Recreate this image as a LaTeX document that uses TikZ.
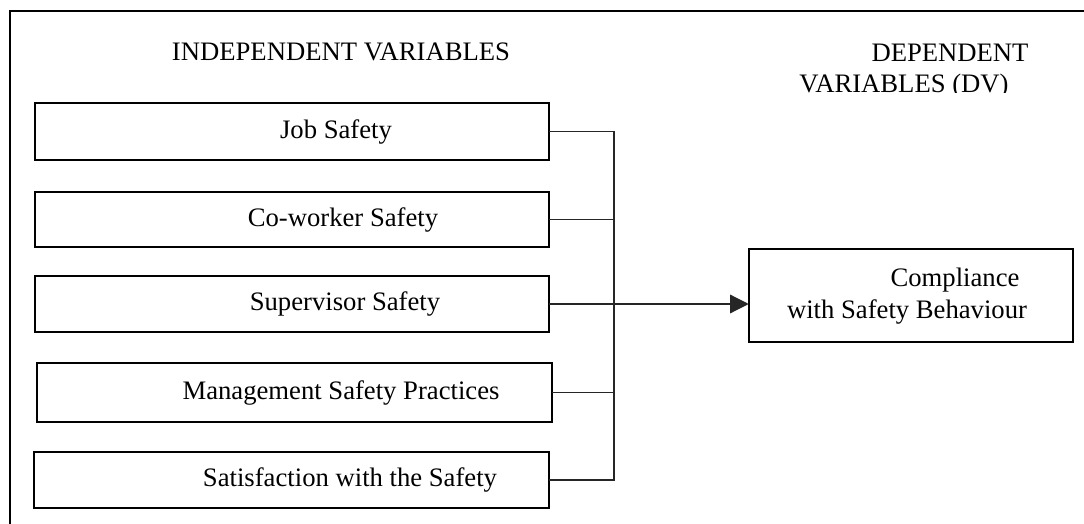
\documentclass[tikz,border=0pt]{standalone}
\usepackage{fontspec}
\setmainfont{Liberation Serif}
\usetikzlibrary{arrows.meta}
\begin{document}
\begin{tikzpicture}[x=0.75pt,y=-0.75pt,
  frame/.style={line width=2pt},
  varbox/.style={draw,line width=1.6pt,rectangle,inner sep=0pt},
  conn/.style={draw,line width=0.9pt,black!85},
  txt/.style={font=\fontsize{20}{24}\selectfont,inner sep=0pt,anchor=base}]
\useasboundingbox (0,0) rectangle (1084,524);
\clip (0,0) rectangle (1084,524);
\fill[white] (0,0) rectangle (1084,524);
% outer frame (runs off the page right and bottom)
\draw[frame] (10,11) rectangle (1100,540);
% headings
\node[txt] (hind) at (341,61) {INDEPENDENT VARIABLES};
\node[txt] (hdep) at (950,62) {DEPENDENT};
\begin{scope}
  \clip (700,0) rectangle (1084,93);
  \node[txt] (hdv) at (904,93) {VARIABLES (DV)};
\end{scope}
% boxes
\path[varbox] (35,103) rectangle (549,160);
\node (job) at (292,131.5) [minimum width=514*0.75pt,minimum height=57*0.75pt,inner sep=0pt] {};
\path[varbox] (35,192) rectangle (549,247);
\node (cow) at (292,219.5) [minimum width=514*0.75pt,minimum height=55*0.75pt,inner sep=0pt] {};
\path[varbox] (35,276) rectangle (549,332);
\node (sup) at (292,304) [minimum width=514*0.75pt,minimum height=56*0.75pt,inner sep=0pt] {};
\path[varbox] (37,363) rectangle (552,422);
\node (man) at (294.5,392.5) [minimum width=515*0.75pt,minimum height=59*0.75pt,inner sep=0pt] {};
\path[varbox] (34,452) rectangle (549,508);
\node (sat) at (291.5,480) [minimum width=515*0.75pt,minimum height=56*0.75pt,inner sep=0pt] {};
\path[varbox] (749,249) rectangle (1073,342);
\node (comp) at (911,295.5) [minimum width=324*0.75pt,minimum height=93*0.75pt,inner sep=0pt] {};
% box texts
\node[txt] (tjob) at (336,138) {Job Safety};
\node[txt] (tcow) at (343,226) {Co-worker Safety};
\node[txt] (tsup) at (345,310) {Supervisor Safety};
\node[txt] (tman) at (341,399) {Management Safety Practices};
\node[txt] (tsat) at (350,486) {Satisfaction with the Safety};
\node[txt] (tcomp1) at (955,286) {Compliance};
\node[txt] (tcomp2) at (907,318) {with Safety Behaviour};
% connectors
\coordinate (bus) at (614,0);
\draw[conn] (job.east) -| (sat.east -| bus) -- (sat.east);
\draw[conn] (cow.east) -- (cow.east -| bus);
\draw[conn] (man.east) -- (man.east -| bus);
\draw[conn,-{Triangle[length=14pt,width=14pt]}] (sup.east) -- (sup.east -| comp.west);
\end{tikzpicture}
\end{document}
